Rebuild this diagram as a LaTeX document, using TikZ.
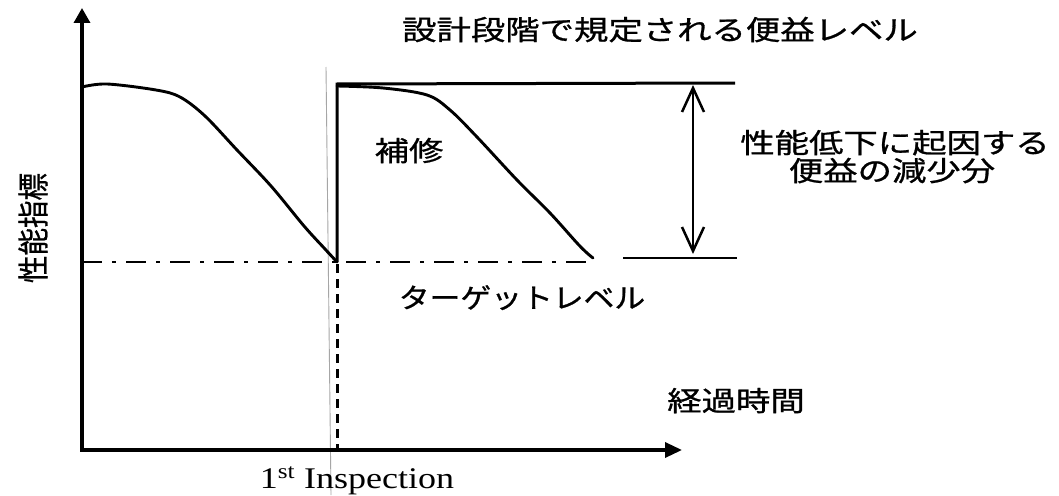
\documentclass[tikz,border=0pt]{standalone}
\usepackage{fontspec}
\usepackage{graphicx}
\setmainfont{Liberation Serif}
\newfontfamily\jp[FakeBold=0.8]{Noto Sans CJK JP}
\usetikzlibrary{arrows.meta}
\newcommand{\hs}[2][1.25]{\scalebox{#1}[1]{#2}}
\tikzset{
  axisline/.style={line width=3.4pt, line join=miter,
    {Triangle[length=15pt,width=16pt]}-{Triangle[length=17pt,width=15pt]}},
  curveline/.style={line width=2.9pt, line join=round, line cap=round},
  stepline/.style={line width=3pt, line join=miter},
  targetline/.style={line width=2.8pt, dash pattern=on 20pt off 10pt on 4pt off 10pt},
  dropline/.style={line width=3pt, dash pattern=on 9pt off 6pt},
  guideline/.style={line width=0.9pt, gray!70},
  spanarrow/.style={line width=2.5pt,
    {Straight Barb[length=24pt,width=22pt]}-{Straight Barb[length=24pt,width=22pt]}},
  jptext/.style={inner sep=0pt, anchor=base, font=\jp\fontsize{27.5}{30}\selectfont},
}
\begin{document}
\begin{tikzpicture}[x=1pt,y=-1pt]
\useasboundingbox (0,0) rectangle (1059,495);
\fill[white] (0,0) rectangle (1059,495);

% coordinates
\coordinate (O) at (82,450);
\coordinate (Ytip) at (82,8);
\coordinate (Xtip) at (682,450);
\coordinate (insTop) at (326,67);
\coordinate (insBot) at (331,495);
\coordinate (T1) at (337,262);
\coordinate (R1) at (337,84);
\coordinate (Lend) at (735,83);
\coordinate (TgStart) at (82,262);
\coordinate (TgEnd) at (593,262);
\coordinate (SgStart) at (623,258);
\coordinate (SgEnd) at (737,258);
\coordinate (ArTop) at (693,85);
\coordinate (ArBot) at (693,254);
\coordinate (DrTop) at (337,264);
\coordinate (DrBot) at (337,450);

% guide line at inspection
\draw[guideline] (insTop) -- (insBot);

% axes
\draw[axisline] (Ytip) -- (O) -- (Xtip);

% target level
\draw[targetline] (TgStart) -- (TgEnd);
\draw[line width=2.8pt] (SgStart) -- (SgEnd);

% first deterioration curve
\draw[curveline] plot[smooth, tension=0.55] coordinates {
  (82,87) (107,84) (156,90) (180,97) (205,116) (237,150) (271,186)
  (304,226) (325,249) (337,262)};

% repair jump and design level
\draw[stepline] (T1) -- (R1) -- (Lend);

% second deterioration curve
\draw[curveline] plot[smooth, tension=0.55] coordinates {
  (337,86) (383,88) (427,95) (450,110) (477,137) (517,180) (550,213)
  (577,243) (587,253) (593,258)};

% dashed drop line
\draw[dropline] (DrTop) -- (DrBot);

% benefit reduction arrow
\draw[spanarrow] (ArTop) -- (ArBot);

% labels
\node[jptext] (title) at (660,40) {\hs{設計段階で規定される便益レベル}};
\node[jptext] (hoshu) at (409,161) {\hs{補修}};
\node[jptext] (red1) at (895,153) {\hs{性能低下に起因する}};
\node[jptext] (red2) at (892,181) {\hs{便益の減少分}};
\node[jptext] (target) at (522,308) {\hs[1.12]{ターゲットレベル}};
\node[jptext] (time) at (736,411) {\hs{経過時間}};
\node[inner sep=0pt, font=\jp\fontsize{27.5}{30}\selectfont] (yl) at (33,228)
  {\hs[1.15]{\rotatebox{90}{性能指標}}};
\node[inner sep=0pt, anchor=base, font=\fontsize{30}{34}\selectfont] (insp) at (357,488)
  {\hs[1.2]{1\textsuperscript{st} Inspection}};
\end{tikzpicture}
\end{document}
